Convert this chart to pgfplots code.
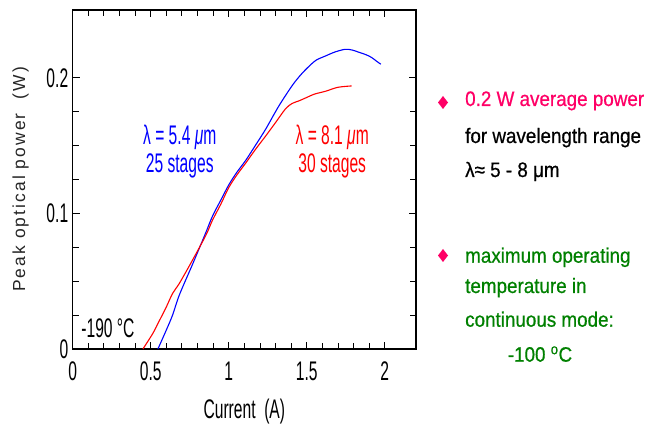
\documentclass[border=0pt]{standalone}
\usepackage{fontspec}
\usepackage{pgfplots}
\pgfplotsset{compat=1.18}
\setmainfont{Liberation Sans}
\newfontfamily\chartfont{Liberation Sans}[FakeStretch=0.58]
\newfontfamily\labelfont{Liberation Sans}[LetterSpace=12]
\newfontfamily\notefont{Liberation Sans}[FakeStretch=0.9,FakeBold=0.6]
\definecolor{curveblue}{RGB}{0,0,255}
\definecolor{curvered}{RGB}{255,0,0}
\definecolor{notepink}{RGB}{255,0,102}
\definecolor{notegreen}{RGB}{0,128,0}
\newcommand\cf{\fontsize{27}{29}\selectfont\chartfont}
\newcommand\nf{\fontsize{21}{24}\selectfont\notefont}

\begin{document}
\begin{tikzpicture}
\path[use as bounding box] (-72.7bp,-75bp) rectangle (574.3bp,349bp);
\begin{axis}[
  at={(0,0)}, anchor=south west,
  scale only axis, width=343.3bp, height=339bp,
  xmin=0, xmax=2.2, ymin=0, ymax=0.25,
  xtick={0,0.5,1,1.5,2}, ytick={0,0.1,0.2},
  minor x tick num=4, minor y tick num=3,
  tick align=inside,
  major tick length=7bp, minor tick length=6bp,
  axis line style={black, line width=1.1pt},
  tick style={black, line width=0.9pt},
  /pgf/number format/assume math mode=true,
  yticklabel style={/pgf/number format/fixed, font=\cf, xshift=-1bp},
  xticklabel style={/pgf/number format/fixed, font=\cf, yshift=-9bp},
  xlabel={Current~~(A)},
  xlabel style={font=\cf, yshift=-12bp},
  ylabel={Peak optical power~~(W)},
  ylabel style={font=\fontsize{17.5}{19}\selectfont\labelfont, color=black!85, yshift=11bp},
]
\addplot[curveblue, line width=1.1pt, smooth] coordinates {
(0.546,0) (0.6,0.014) (0.64,0.025) (0.684,0.040) (0.77,0.063) (0.85,0.085)
(0.896,0.098) (0.95,0.110) (1.0,0.121) (1.05,0.130) (1.108,0.139) (1.17,0.150)
(1.236,0.162) (1.32,0.179) (1.405,0.194) (1.46,0.202) (1.51,0.208) (1.56,0.213)
(1.618,0.216) (1.68,0.219) (1.745,0.221) (1.79,0.2205) (1.83,0.219) (1.88,0.217)
(1.915,0.215) (1.95,0.212) (1.975,0.210)};
\addplot[curvered, line width=1.1pt, smooth] coordinates {
(0.45,0) (0.514,0.0116) (0.556,0.021) (0.6,0.031) (0.64,0.041) (0.684,0.0485)
(0.77,0.066) (0.854,0.084) (0.896,0.095) (0.95,0.107) (1.0,0.119) (1.05,0.128)
(1.108,0.137) (1.17,0.147) (1.236,0.157) (1.30,0.167) (1.363,0.177) (1.405,0.181)
(1.45,0.183) (1.49,0.185) (1.55,0.188) (1.618,0.190) (1.70,0.193) (1.788,0.194)};
\node[curveblue, font=\cf] at (axis cs:0.686,0.156) {λ = 5.4 \textit{μ}m};
\node[curveblue, font=\cf] at (axis cs:0.686,0.135) {25 stages};
\node[curvered, font=\cf] at (axis cs:1.663,0.156) {λ = 8.1 \textit{μ}m};
\node[curvered, font=\cf] at (axis cs:1.663,0.135) {30 stages};
\node[black, font=\cf] at (axis cs:0.226,0.0155) {-190 °C};
\end{axis}
% notes to the right of the plot
\fill[notepink] (370.3bp,253bp) -- (375.3bp,246.5bp) -- (370.3bp,240bp) -- (365.3bp,246.5bp) -- cycle;
\node[anchor=base west, inner sep=0pt, notepink, font=\nf] at (392.3bp,243bp) {0.2 W average power};
\node[anchor=base west, inner sep=0pt, black, font=\nf] at (392.3bp,206bp) {for wavelength range};
\node[anchor=base west, inner sep=0pt, black, font=\nf] at (392.3bp,172bp) {λ≈ 5 - 8 μm};
\fill[notepink] (370.3bp,100bp) -- (375.3bp,93.5bp) -- (370.3bp,87bp) -- (365.3bp,93.5bp) -- cycle;
\node[anchor=base west, inner sep=0pt, notegreen, font=\nf] at (392.3bp,86.3bp) {maximum operating};
\node[anchor=base west, inner sep=0pt, notegreen, font=\nf] at (392.3bp,56bp) {temperature in};
\node[anchor=base west, inner sep=0pt, notegreen, font=\nf] at (392.3bp,22.3bp) {continuous mode:};
\node[anchor=base, inner sep=0pt, notegreen, font=\nf] at (467.3bp,-12.7bp) {-100 \textsuperscript{o}C};
\end{tikzpicture}
\end{document}
